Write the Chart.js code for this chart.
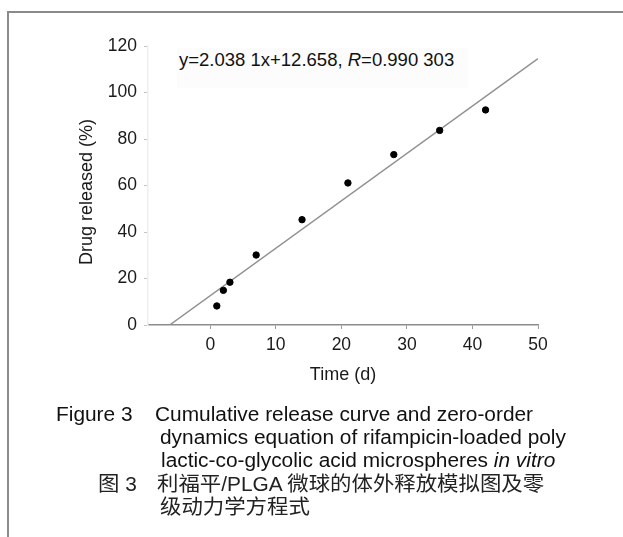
<!DOCTYPE html>
<html>
<head>
<meta charset="utf-8">
<script src="https://cdn.jsdelivr.net/npm/chart.js@4/dist/chart.umd.min.js"></script>
<style>
  html, body { margin: 0; padding: 0; background: #fff; overflow: hidden; }
  body { width: 623px; height: 537px; position: relative; font-family: "Liberation Sans", Arial, "Noto Sans CJK SC", sans-serif; color: #111; }
  #releaseChart { position: absolute; left: 0; top: 0; }
  .frame { position: absolute; left: 7px; top: 11px; width: 616px; height: 524px; border-top: 2px solid #8a8a8a; border-left: 2px solid #8a8a8a; }
  .eq { position: absolute; left: 177px; top: 48px; width: 291px; height: 40px; background: #fcfcfc; }
  .eq span.txt { position: absolute; left: 2px; top: 3px; font-size: 18.5px; line-height: 18.5px; white-space: nowrap; color: #111; }
  .ytitle { position: absolute; left: -14px; top: 181px; width: 200px; height: 22px; line-height: 22px; text-align: center; font-size: 18px; color: #1a1a1a; transform: rotate(-90deg); transform-origin: center center; white-space: nowrap; }
  .cap { position: absolute; font-size: 19.5px; line-height: 23px; white-space: nowrap; transform: scaleX(1.07); transform-origin: left top; }
  .cn { color: #222; }
  .cn .hz { font-family: "Noto Sans CJK SC", sans-serif; font-size: 20px; }
</style>
</head>
<body>
<canvas id="releaseChart" width="623" height="537"></canvas>
<div class="frame"></div>
<div class="eq"><span class="txt">y=2.038 1x+12.658, <i>R</i>=0.990 303</span></div>
<div class="ytitle">Drug released (%)</div>

<div class="cap" style="left:56px; top:403px;">Figure 3</div>
<div class="cap" style="left:155px; top:403px;">Cumulative release curve and zero-order</div>
<div class="cap" style="left:160px; top:426px;">dynamics equation of rifampicin-loaded poly</div>
<div class="cap" style="left:161px; top:449px;">lactic-co-glycolic acid microspheres <i>in vitro</i></div>
<div class="cap cn" style="left:98px; top:471px;"><span class="hz">图</span> 3</div>
<div class="cap cn" style="left:157px; top:471px;"><span class="hz">利福平</span>/PLGA <span class="hz">微球的体外释放模拟图及零</span></div>
<div class="cap cn" style="left:160px; top:494px;"><span class="hz">级动力学方程式</span></div>

<script>
// --- Data ---
const releaseDays = [1, 2, 3, 7, 14, 21, 28, 35, 42];
const releasedPct = [8.2, 14.9, 18.4, 30.1, 45.3, 61.1, 73.3, 83.7, 92.5];

// fitted zero-order line, end points
const fitDays = [-6.2, 50];
const fitPct = [0, 114.6];

const xTickValues = [0, 10, 20, 30, 40, 50];
const yTickValues = [0, 20, 40, 60, 80, 100, 120];

document.addEventListener('DOMContentLoaded', function () {
    const tickFont = { family: '"Liberation Sans", Arial, sans-serif', size: 17.5 };
    const titleFont = { family: '"Liberation Sans", Arial, sans-serif', size: 18 };

    const ctx = document.getElementById('releaseChart');
    if (ctx) {
        new Chart(ctx.getContext('2d'), {
            type: 'scatter',
            data: {
                datasets: [{
                    label: 'Drug released',
                    data: releaseDays.map((d, i) => ({ x: d, y: releasedPct[i] })),
                    backgroundColor: '#000',
                    borderColor: '#000',
                    pointRadius: 3.2,
                    pointHoverRadius: 3.2
                }, {
                    label: 'Zero-order fit',
                    data: fitDays.map((d, i) => ({ x: d, y: fitPct[i] })),
                    showLine: true,
                    borderColor: '#909090',
                    borderWidth: 1.5,
                    pointRadius: 0,
                    fill: false
                }]
            },
            options: {
                responsive: false,
                animation: false,
                devicePixelRatio: 1,
                layout: { padding: { left: 68, right: 85, top: 46, bottom: 140 } },
                plugins: {
                    legend: { display: false },
                    tooltip: { enabled: false }
                },
                scales: {
                    x: {
                        type: 'linear',
                        min: -9.5,
                        max: 50,
                        afterBuildTicks: function (axis) {
                            axis.ticks = xTickValues.map(v => ({ value: v }));
                        },
                        afterFit: function (axis) { axis.height = 72; },
                        grid: { drawOnChartArea: false, drawTicks: true, tickLength: 4, color: '#9a9a9a' },
                        border: { color: '#8c8c8c', width: 1.5 },
                        ticks: { font: tickFont, color: '#1a1a1a', padding: 6, maxRotation: 0 },
                        title: {
                            display: true,
                            text: 'Time (d)',
                            font: titleFont,
                            color: '#1a1a1a',
                            padding: { top: 0, bottom: 11.5 }
                        }
                    },
                    y: {
                        type: 'linear',
                        min: 0,
                        max: 120,
                        afterBuildTicks: function (axis) {
                            axis.ticks = yTickValues.map(v => ({ value: v }));
                        },
                        afterFit: function (axis) { axis.width = 80; },
                        grid: { drawOnChartArea: false, drawTicks: true, tickLength: 4, color: '#c4c4c4' },
                        border: { color: '#efefef', width: 1.5 },
                        ticks: { font: tickFont, color: '#1a1a1a', padding: 7 },
                        title: { display: false }
                    }
                }
            }
        });
    }
});
</script>
</body>
</html>
